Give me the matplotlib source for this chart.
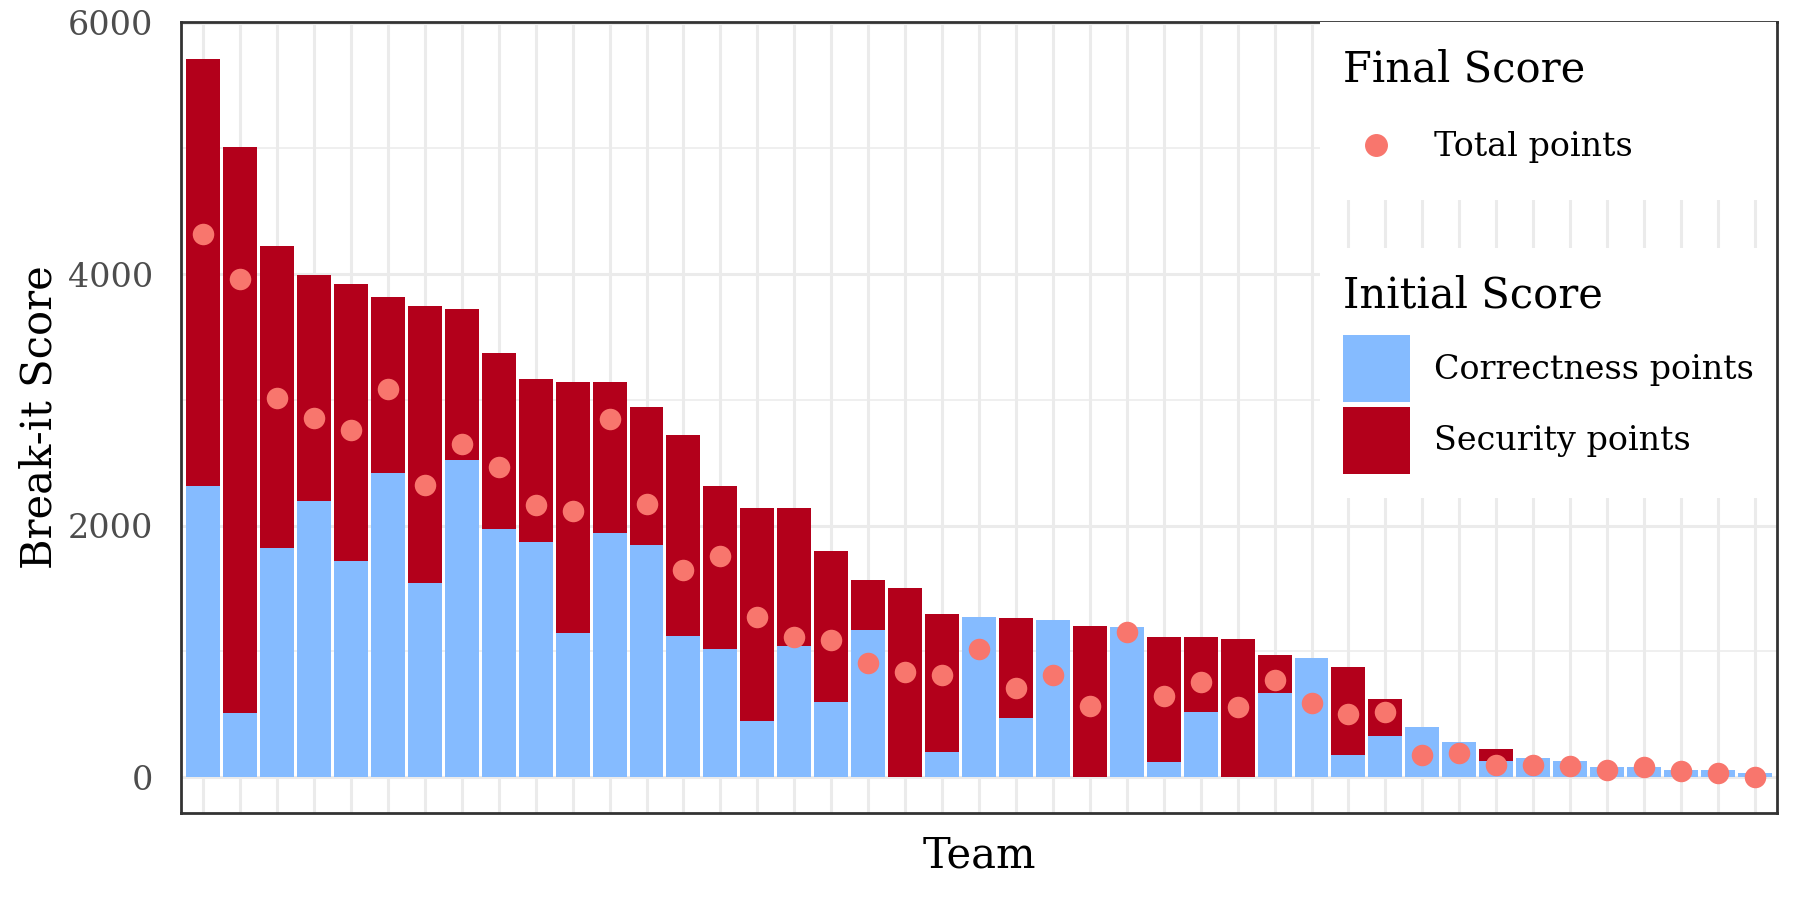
import numpy as np
import matplotlib.pyplot as plt
from matplotlib.lines import Line2D
from matplotlib.patches import Patch, Rectangle

# break-it scores per team, sorted by initial score
correctness = [2315, 513, 1821, 2197, 1720, 2421, 1543, 2523, 1974, 1868, 1143,
               1939, 1842, 1122, 1018, 444, 1040, 596, 1167, 0, 198, 1274, 468,
               1250, 0, 1192, 117, 516, 0, 668, 947, 175, 323, 402, 275, 124,
               148, 124, 77, 77, 53, 53, 29]
security = [3400, 4500, 2400, 1800, 2200, 1400, 2200, 1200, 1400, 1300, 2000,
            1200, 1100, 1600, 1300, 1700, 1100, 1200, 400, 1500, 1100, 0, 800,
            0, 1200, 0, 1000, 600, 1100, 300, 0, 700, 300, 0, 0, 100,
            0, 0, 0, 0, 0, 0, 0]
total_points = [4316, 3960, 3016, 2855, 2757, 3087, 2323, 2648, 2464, 2166, 2119,
                2845, 2170, 1650, 1760, 1274, 1112, 1088, 906, 833, 812, 1016, 707,
                814, 564, 1152, 641, 753, 561, 771, 588, 505, 519, 175, 188, 98,
                95, 85, 56, 77, 50, 34, 3]
y_ticks = [0, 2000, 4000, 6000]
y_minor = [1000, 3000, 5000]

BLUE = '#85BBFF'
RED = '#B3001B'
DOT = '#F8766D'
GRID = '#EBEBEB'

plt.rcParams['font.family'] = 'DejaVu Serif'

W, H = 1800, 900
fig = plt.figure(figsize=(18, 9), dpi=100)
ax = fig.add_axes([181 / W, 87 / H, 1596 / W, 791 / H])

teams = np.arange(len(correctness))
ax.bar(teams, correctness, width=0.92, color=BLUE, zorder=2)
ax.bar(teams, security, width=0.92, bottom=correctness, color=RED, zorder=2)
ax.scatter(teams, total_points, s=240, color=DOT, linewidths=0, zorder=3)

ax.set_xlim(-0.6, len(teams) - 0.4)
ax.set_ylim(-286, 6006)
ax.set_xticks(teams)
ax.set_xticklabels([])
ax.set_yticks(y_ticks)
ax.set_yticks(y_minor, minor=True)
ax.set_axisbelow(True)
ax.grid(which='major', color=GRID, linewidth=2.2)
ax.grid(which='minor', axis='y', color=GRID, linewidth=1.1)
ax.tick_params(which='both', length=0, labelsize=24, labelcolor='#4D4D4D', pad=20)
for s in ax.spines.values():
    s.set_color('#333333')
    s.set_linewidth(2)

fig.text(40 / W, 1 - 417 / H, 'Break-it Score', rotation=90, ha='center', va='center', fontsize=30)
fig.text(979 / W, 1 - 856 / H, 'Team', ha='center', va='center', fontsize=30)

# legend backgrounds
fig.add_artist(Rectangle((1320 / W, 1 - 200 / H), 456 / W, 178 / H, transform=fig.transFigure,
                         facecolor='white', edgecolor='none', zorder=1))
fig.add_artist(Rectangle((1320 / W, 1 - 498 / H), 456 / W, 250 / H, transform=fig.transFigure,
                         facecolor='white', edgecolor='none', zorder=1))

leg_kw = dict(loc='upper left', frameon=False, fontsize=24, title_fontsize=30,
              alignment='left', handlelength=2.0, handletextpad=0.72,
              labelspacing=0.15, borderpad=0, borderaxespad=0)
leg1 = fig.legend(handles=[Line2D([], [], marker='o', ls='', color=DOT, markersize=15.5)],
                  labels=['Total points'], title='Final Score', handleheight=0.7,
                  bbox_to_anchor=(1343 / W, 1 - 49 / H), **leg_kw)
leg2 = fig.legend(handles=[Patch(facecolor=BLUE), Patch(facecolor=RED)],
                  labels=['Correctness points', 'Security points'], title='Initial Score',
                  handleheight=2.7, bbox_to_anchor=(1343 / W, 1 - 274 / H), **leg_kw)
# more room between legend title and keys
leg1._legend_box.sep = 29
leg2._legend_box.sep = 14

fig.savefig('out.png', dpi=100)
